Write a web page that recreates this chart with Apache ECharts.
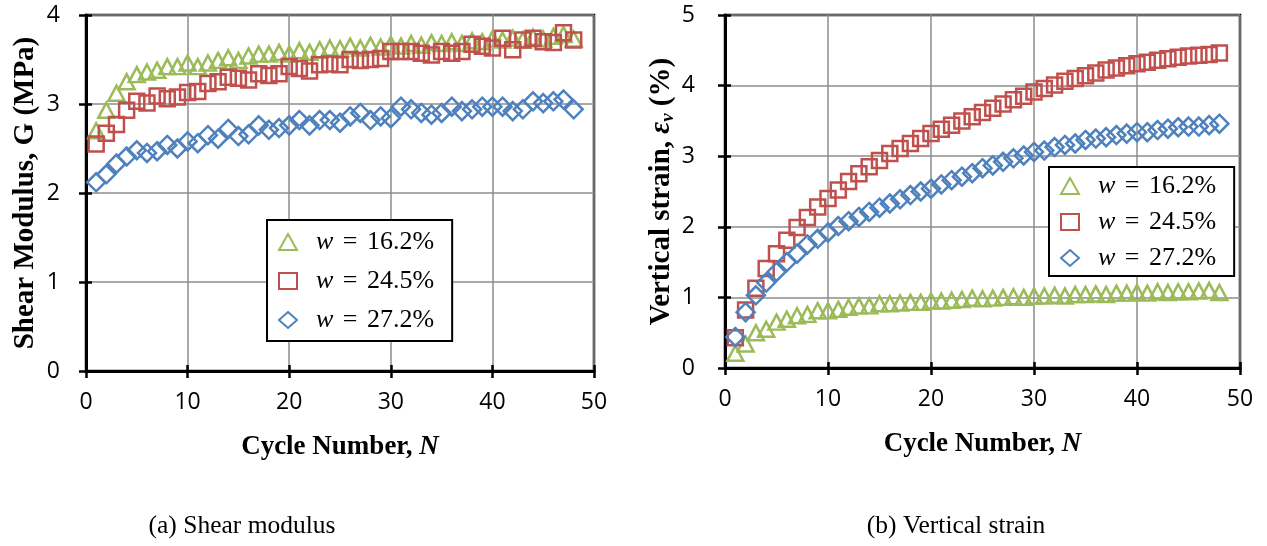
<!DOCTYPE html>
<html>
<head>
<meta charset="utf-8">
<script src="https://cdn.jsdelivr.net/npm/echarts@6/dist/echarts.min.js"></script>
<style>html,body{margin:0;padding:0;background:#fff;}#c{width:1267px;height:546px;}</style>
</head>
<body>
<div id="c"></div>
<script>
// Cycle numbers
var cycles = [];
for (var k = 1; k <= 48; k++) cycles.push(k);

// Legend labels (water content)
var wLabels = ['16.2%', '24.5%', '27.2%'];

// (a) Shear modulus G (MPa)
var shear162 = [2.70,2.93,3.12,3.25,3.33,3.36,3.38,3.42,3.42,3.46,3.42,3.46,3.49,3.52,3.49,3.54,3.56,3.56,3.58,3.56,3.60,3.58,3.61,3.63,3.62,3.65,3.63,3.66,3.64,3.67,3.65,3.68,3.66,3.69,3.68,3.70,3.68,3.71,3.70,3.73,3.72,3.74,3.72,3.75,3.73,3.76,3.78,3.73];
var shear245 = [2.55,2.67,2.77,2.93,3.03,3.01,3.09,3.06,3.08,3.13,3.14,3.23,3.25,3.30,3.29,3.27,3.34,3.32,3.34,3.42,3.40,3.37,3.44,3.45,3.44,3.50,3.49,3.50,3.51,3.59,3.59,3.59,3.57,3.55,3.59,3.57,3.59,3.67,3.65,3.63,3.74,3.61,3.72,3.74,3.70,3.69,3.80,3.72];
var shear272 = [2.12,2.21,2.33,2.41,2.48,2.45,2.47,2.54,2.50,2.58,2.56,2.65,2.61,2.72,2.64,2.66,2.76,2.71,2.73,2.76,2.82,2.76,2.82,2.82,2.79,2.86,2.90,2.82,2.86,2.84,2.97,2.94,2.90,2.88,2.90,2.97,2.92,2.94,2.97,2.97,2.97,2.92,2.94,3.03,3.01,3.03,3.05,2.94];

// (b) Vertical strain (%)
var strain162 = [0.21,0.34,0.50,0.55,0.65,0.69,0.74,0.76,0.81,0.81,0.83,0.86,0.88,0.88,0.91,0.91,0.92,0.93,0.93,0.95,0.95,0.96,0.97,0.99,0.98,0.99,1.00,1.01,1.00,1.02,1.02,1.03,1.02,1.04,1.04,1.05,1.04,1.06,1.06,1.07,1.06,1.08,1.07,1.08,1.08,1.09,1.10,1.07];
var strain245 = [0.43,0.82,1.13,1.41,1.62,1.81,1.99,2.13,2.28,2.40,2.52,2.64,2.75,2.85,2.94,3.04,3.11,3.18,3.25,3.32,3.38,3.44,3.50,3.56,3.62,3.68,3.74,3.80,3.85,3.91,3.96,4.01,4.06,4.10,4.14,4.18,4.22,4.25,4.28,4.31,4.33,4.36,4.38,4.40,4.42,4.43,4.44,4.46];
var strain272 = [0.44,0.79,1.03,1.21,1.36,1.50,1.62,1.75,1.83,1.92,2.01,2.08,2.14,2.21,2.27,2.33,2.39,2.45,2.50,2.54,2.60,2.66,2.71,2.76,2.83,2.87,2.92,2.97,3.01,3.06,3.08,3.13,3.16,3.18,3.23,3.25,3.27,3.30,3.32,3.34,3.34,3.37,3.39,3.41,3.42,3.42,3.44,3.46];

var COLORS = ['#9BBB59', '#C0504D', '#4F81BD'];
var SYMBOLS = ['triangle', 'rect', 'diamond'];
var SIZES = [[16, 15], [15, 15], [18, 18]];
var names = wLabels.map(function (l) { return 'w = ' + l; });

function pairs(ys) { return cycles.map(function (x, i) { return [x, ys[i]]; }); }

var SERIF = '"Liberation Serif", "Times New Roman", serif';
var SANS = '"Open Sans", "Liberation Sans", sans-serif';

function mkSeries(ys, idx, g) {
  return {
    type: 'scatter', name: names[idx], xAxisIndex: g, yAxisIndex: g,
    data: pairs(ys), symbol: SYMBOLS[idx], symbolSize: SIZES[idx],
    itemStyle: { color: 'rgba(255,255,255,0)', borderColor: COLORS[idx], borderWidth: 2.5, opacity: 1 },
    emphasis: { disabled: true }, animation: false, z: 3 + idx
  };
}

function mainX(g) {
  return {
    gridIndex: g, type: 'value', min: 0, max: 50, interval: 10, position: 'bottom',
    axisLine: { onZero: false, lineStyle: { color: '#000', width: 3 } },
    axisTick: { length: 7, lineStyle: { color: '#000', width: 2.5 } },
    axisLabel: { fontFamily: SANS, fontSize: 23, color: '#000', margin: 20 },
    splitLine: { show: true, lineStyle: { color: '#8c8c8c', width: 1.5 } },
    name: '{a|Cycle Number, }{n|N}', nameLocation: 'middle', nameGap: 63,
    nameTextStyle: { rich: {
      a: { fontFamily: SERIF, fontWeight: 'bold', fontSize: 27, color: '#000' },
      n: { fontFamily: SERIF, fontWeight: 'bold', fontStyle: 'italic', fontSize: 27, color: '#000' } } }
  };
}
function innerX(g) {
  return { gridIndex: g, type: 'value', min: 0, max: 50, interval: 10, position: 'bottom',
    axisLine: { show: false }, axisLabel: { show: false }, splitLine: { show: false },
    axisTick: { inside: true, length: 6, lineStyle: { color: '#000', width: 2.5 } } };
}
function mainY(g, max, name, rich, margin) {
  return {
    gridIndex: g, type: 'value', min: 0, max: max, interval: 1, position: 'left',
    axisLine: { onZero: false, lineStyle: { color: '#000', width: 3 } },
    axisTick: { length: 7, lineStyle: { color: '#000', width: 2.5 } },
    axisLabel: { fontFamily: SANS, fontSize: 23, color: '#000', margin: margin },
    splitLine: { show: true, lineStyle: { color: '#8c8c8c', width: 1.5 } },
    name: name, nameLocation: 'middle', nameGap: 46, nameRotate: 90,
    nameTextStyle: { rich: rich }
  };
}
function innerY(g, max) {
  return { gridIndex: g, type: 'value', min: 0, max: max, interval: 1, position: 'left',
    axisLine: { show: false }, axisLabel: { show: false }, splitLine: { show: false },
    axisTick: { inside: true, length: 6, lineStyle: { color: '#000', width: 2.5 } } };
}

var boldSerif = { fontFamily: SERIF, fontWeight: 'bold', fontSize: 29, color: '#000' };

function legend(left, top, gap, pad) {
  return {
    orient: 'vertical', left: left, top: top, itemGap: gap, itemWidth: 18, itemHeight: 16,
    padding: pad, borderColor: '#000', borderWidth: 2, backgroundColor: '#fff',
    data: names, selectedMode: false,
    formatter: function (n) { return '{i|w}{e| = }{t|' + n.slice(4) + '}'; },
    textStyle: { rich: {
      i: { fontFamily: SERIF, fontStyle: 'italic', fontSize: 26, color: '#000', padding: [0, 0, 0, 14] },
      e: { fontFamily: SERIF, fontSize: 26, color: '#000', padding: [0, 3, 0, 3] },
      t: { fontFamily: SERIF, fontSize: 26, color: '#000' } } }
  };
}

var option = {
  backgroundColor: '#fff',
  animation: false,
  grid: [
    { left: 86, top: 15, width: 508, height: 356, show: true, borderColor: '#000', borderWidth: 2.5, backgroundColor: '#fff' },
    { left: 725, top: 15, width: 515, height: 353, show: true, borderColor: '#000', borderWidth: 2.5, backgroundColor: '#fff' }
  ],
  xAxis: [mainX(0), mainX(1), innerX(0), innerX(1)],
  yAxis: [
    mainY(0, 4, '{a|Shear Modulus, G (MPa)}', { a: boldSerif }, 26),
    mainY(1, 5, '{a|Vertical strain, }{e|ε}{s|v}{a| (%)}', {
      a: boldSerif,
      e: { fontFamily: SERIF, fontWeight: 'bold', fontStyle: 'italic', fontSize: 29, color: '#000' },
      s: { fontFamily: SERIF, fontWeight: 'bold', fontStyle: 'italic', fontSize: 19, color: '#000', padding: [13, 0, 0, 0] }
    }, 30),
    innerY(0, 4), innerY(1, 5)
  ],
  legend: [legend(267, 220, 13, [9, 18, 8, 11]), legend(1049, 167, 10, [6, 18, 5, 11])],
  series: [
    mkSeries(shear162, 0, 0), mkSeries(shear245, 1, 0), mkSeries(shear272, 2, 0),
    mkSeries(strain162, 0, 1), mkSeries(strain245, 1, 1), mkSeries(strain272, 2, 1)
  ],
  graphic: [
    { type: 'text', style: { text: '(a) Shear modulus', x: 242, y: 526, align: 'center', verticalAlign: 'middle', font: '25.5px "Liberation Serif", serif', fill: '#000' } },
    { type: 'text', style: { text: '(b) Vertical strain', x: 956, y: 526, align: 'center', verticalAlign: 'middle', font: '25.5px "Liberation Serif", serif', fill: '#000' } }
  ]
};

var chart = echarts.init(document.getElementById('c'), null, { renderer: 'canvas' });
chart.setOption(option);
</script>
</body>
</html>
